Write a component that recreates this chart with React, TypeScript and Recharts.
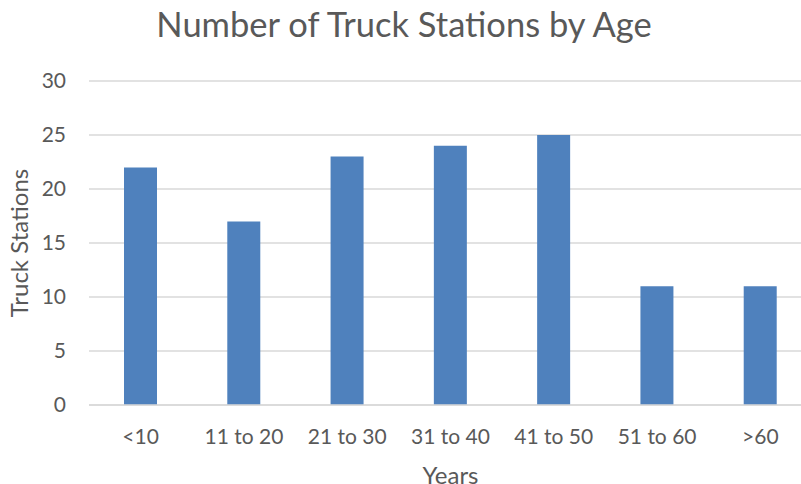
import { BarChart, Bar, XAxis, YAxis, CartesianGrid } from "recharts";

const categories = ["<10", "11 to 20", "21 to 30", "31 to 40", "41 to 50", "51 to 60", ">60"];
const stations = [22, 17, 23, 24, 25, 11, 11];
const yTicks = [0, 5, 10, 15, 20, 25, 30];

const data = categories.map((age, i) => ({ age, stations: stations[i] }));

const FONT = "Lato, 'Open Sans', sans-serif";
const TEXT = "#595959";

export default function App() {
  return (
    <div
      style={{
        position: "absolute",
        left: 0,
        top: 0,
        width: 801,
        height: 484,
        overflow: "hidden",
        background: "#fff",
        fontFamily: FONT,
      }}
    >
      <div
        style={{
          position: "absolute",
          top: 3,
          left: 0,
          width: 808,
          textAlign: "center",
          fontSize: 34.5,
          color: TEXT,
          lineHeight: "42px",
        }}
      >
        Number of Truck Stations by Age
      </div>
      <BarChart
        width={812}
        height={484}
        data={data}
        margin={{ top: 81, right: 0, bottom: 0, left: 0 }}
      >
        <CartesianGrid vertical={false} stroke="#d9d9d9" strokeWidth={1.3} />
        <XAxis
          dataKey="age"
          height={79}
          axisLine={{ stroke: "#d9d9d9", strokeWidth: 1.3 }}
          tickLine={false}
          tick={{ fill: TEXT, fontSize: 21, fontFamily: FONT }}
          tickMargin={18}
          interval={0}
          label={{
            value: "Years",
            position: "insideBottom",
            offset: 0,
            fill: TEXT,
            fontSize: 24,
            fontFamily: FONT,
          }}
        />
        <YAxis
          width={89}
          domain={[0, 30]}
          ticks={yTicks}
          axisLine={false}
          tickLine={false}
          tick={{ fill: TEXT, fontSize: 21, fontFamily: FONT }}
          tickMargin={17}
          label={{
            value: "Truck Stations",
            angle: -90,
            position: "insideLeft",
            offset: 19,
            fill: TEXT,
            fontSize: 24,
            fontFamily: FONT,
            style: { textAnchor: "middle" },
          }}
        />
        <Bar dataKey="stations" fill="#4f81bd" barSize={33} isAnimationActive={false} />
      </BarChart>
    </div>
  );
}
